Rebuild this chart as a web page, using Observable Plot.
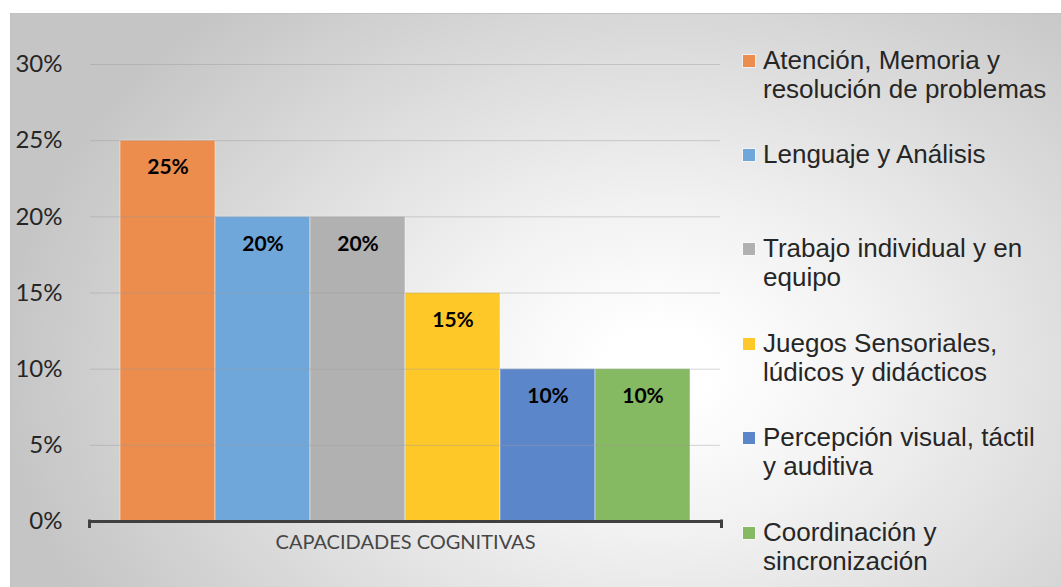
<!DOCTYPE html>
<html>
<head>
<meta charset="utf-8">
<script src="https://cdn.jsdelivr.net/npm/d3@7"></script>
<script src="https://cdn.jsdelivr.net/npm/@observablehq/plot@0.6"></script>
<style>
  html, body { margin: 0; padding: 0; background: #fff; }
  #wrap { position: relative; width: 1061px; height: 587px; overflow: hidden; background: #fff; }
  #box { position: absolute; left: 10px; top: 13px; width: 1060px; height: 590px;
         border-top: 1px solid #c3c3c3; border-left: 1px solid #c3c3c3;
         background: radial-gradient(ellipse 62% 82% at 61% 60%, #ffffff 8%, #f1f1f1 35%, #c5c5c5 100%); }
  #chart { position: absolute; left: 0; top: 0; }
  .lg { position: absolute; left: 743px; white-space: pre; }
  .lg .sw { position: absolute; left: 0; top: 9px; width: 12px; height: 12px; }
  .lg .tx { position: absolute; left: 20px; top: 0; font-family: "Liberation Sans", Arial, sans-serif;
            font-size: 26px; line-height: 29px; color: #262626; }
</style>
</head>
<body>
<div id="wrap">
  <div id="box"></div>
  <div id="chart"></div>
  <div id="legend"></div>
</div>
<script>
const categories = [
  "Atención, Memoria y\nresolución de problemas",
  "Lenguaje y Análisis",
  "Trabajo individual y en\nequipo",
  "Juegos Sensoriales,\nlúdicos y didácticos",
  "Percepción visual, táctil\ny auditiva",
  "Coordinación y\nsincronización"
];
const values = [0.25, 0.20, 0.20, 0.15, 0.10, 0.10];
const colors = ["#EC8C4D", "#70A7DA", "#B1B1B1", "#FFC829", "#5C86CA", "#85B962"];
const yTicks = [0, 0.05, 0.10, 0.15, 0.20, 0.25, 0.30];
const groupLabel = "CAPACIDADES COGNITIVAS";

const data = categories.map((c, i) => ({name: c, value: values[i]}));
const pct = d3.format(".0%");

const plot = Plot.plot({
  width: 740,
  height: 587,
  marginLeft: 90,
  marginRight: 20,
  marginTop: 64,
  marginBottom: 66,
  style: {background: "transparent", fontFamily: "Lato, sans-serif", overflow: "visible"},
  x: {domain: categories, paddingInner: 0, paddingOuter: 0.316, round: false, axis: null},
  y: {domain: [0, 0.30], ticks: yTicks, tickFormat: pct, label: null},
  color: {domain: categories, range: colors},
  marks: [
    Plot.barY(data, {x: "name", y: "value", fill: "name", stroke: "#ffffff", strokeOpacity: 0.45, strokeWidth: 1}),
    Plot.ruleY(yTicks.filter(t => t > 0), {stroke: "#9a9a9a", strokeOpacity: 0.42, strokeWidth: 1}),
    Plot.text(data, {x: "name", y: "value", text: d => pct(d.value), dy: 27, fontSize: 21, fontWeight: "bold", fill: "#000"}),
    Plot.ruleY([0], {stroke: "#404040", strokeWidth: 3}),
    Plot.axisY({ticks: yTicks, tickFormat: pct, tickSize: 0, tickPadding: 28, fontSize: 24, fill: "#262626", label: null}),
    Plot.text([groupLabel], {frameAnchor: "bottom", dy: 27, fontSize: 20, fill: "#474747"})
  ]
});

// end ticks of the category axis line, derived from the plot's own scales and margins
const svg = d3.select(plot);
const y0 = plot.scale("y").apply(0);
[90 - 0.5, 740 - 20 + 1.5].forEach(xx => {
  svg.append("line").attr("x1", xx).attr("x2", xx).attr("y1", y0 - 1.5).attr("y2", y0 + 7)
    .attr("stroke", "#404040").attr("stroke-width", 3);
});
document.getElementById("chart").appendChild(plot);

const legend = d3.select("#legend");
categories.forEach((c, i) => {
  const e = legend.append("div").attr("class", "lg").style("top", (45.5 + i * 94.4) + "px");
  e.append("div").attr("class", "sw").style("background", colors[i])
    .style("box-shadow", "0 0 0 1px rgba(255,255,255,0.5)");
  e.append("div").attr("class", "tx").text(c);
});
</script>
</body>
</html>
